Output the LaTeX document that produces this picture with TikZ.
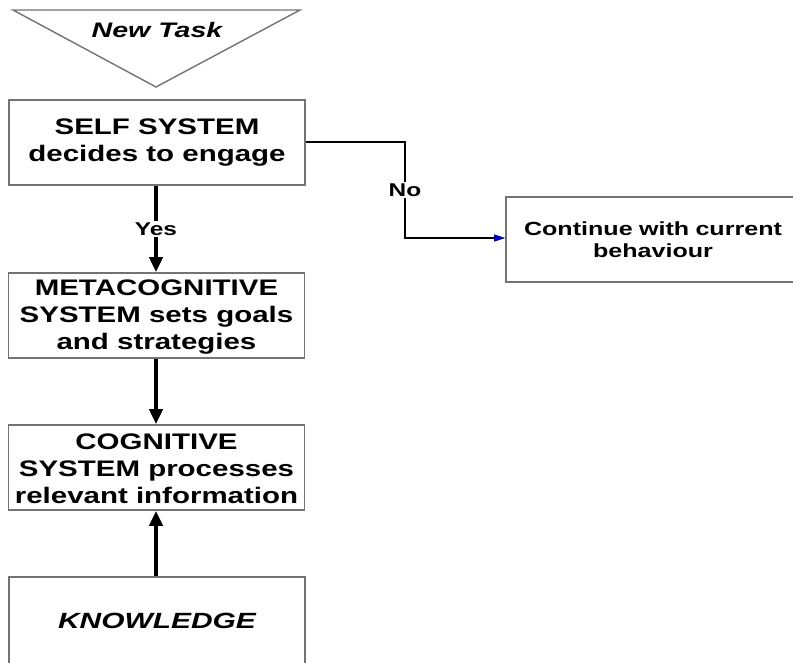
\documentclass[tikz,border=0pt]{standalone}
\usepackage{fontspec}
\setmainfont{Liberation Sans}
\newfontfamily\wb{Liberation Sans Bold}[FakeStretch=1.31]
\newfontfamily\wbl{Liberation Sans Bold}[FakeStretch=1.32]
\newfontfamily\wbi{Liberation Sans Bold Italic}[FakeStretch=1.36]
\usetikzlibrary{arrows.meta}
\tikzset{
  box/.style={draw=black!55, line width=1.6pt, fill=white, minimum width=296pt, minimum height=85pt, align=center, inner sep=0pt},
  boxtext/.style={font=\fontsize{22.5}{27}\selectfont\wb},
  smalltext/.style={font=\fontsize{19}{22}\selectfont\wbl},
  thickarrow/.style={line width=4pt, -{Triangle[length=15pt,width=13pt]}},
  thinarrow/.style={line width=2.4pt, -{Triangle[length=11pt,width=7pt,line width=0.6pt,fill=blue!85!black,color=blue!50!black]}},
  lbl/.style={fill=white, inner sep=1.5pt, font=\fontsize{18.5}{20}\selectfont\wbl},
}
\begin{document}
\begin{tikzpicture}[x=1pt,y=-1pt]
\useasboundingbox (0,0) rectangle (793,662);
% New Task triangle
\coordinate (tl) at (13,10);
\coordinate (tr) at (300,10);
\coordinate (tb) at (156,87);
\draw[black!55, line width=1.4pt, line join=miter] (tl) -- (tr) -- (tb) -- cycle;
\node[font=\fontsize{21}{24}\selectfont\wbi] (newtask) at (157,30) {New Task};
% boxes
\node[box, boxtext] (self) at (157,142.5) {SELF SYSTEM\\decides to engage};
\node[box, boxtext] (meta) at (156.5,315.5) {\rule{0pt}{18pt}METACOGNITIVE\\SYSTEM sets goals\\and strategies};
\node[box, boxtext] (cog) at (156.5,467.5) {\rule{0pt}{18pt}COGNITIVE\\SYSTEM processes\\relevant information};
\node[box, minimum height=87pt, font=\fontsize{22}{24}\selectfont\wbi] (know) at (157,620.5) {KNOWLEDGE};
\node[box, minimum width=300pt, smalltext, text width=290pt] (cont) at (656,239.5) {\hspace*{-6pt}Continue with current\\\hspace*{-6pt}behaviour};
% connectors
\draw[thickarrow] (self.south -| 156,0) -- node[lbl] {Yes} (meta.north -| 156,0);
\draw[thickarrow] (meta.south -| 156,0) -- (cog.north -| 156,0);
\draw[thickarrow] (know.north -| 156,0) -- (cog.south -| 156,0);
\coordinate (nb1) at (405,142);
\coordinate (nb2) at (405,238);
\draw[thinarrow, line join=miter] (self.east |- nb1) -- (nb1) -- node[lbl, pos=0.5] {No} (nb2) -- (cont.west |- nb2);
\end{tikzpicture}
\end{document}
